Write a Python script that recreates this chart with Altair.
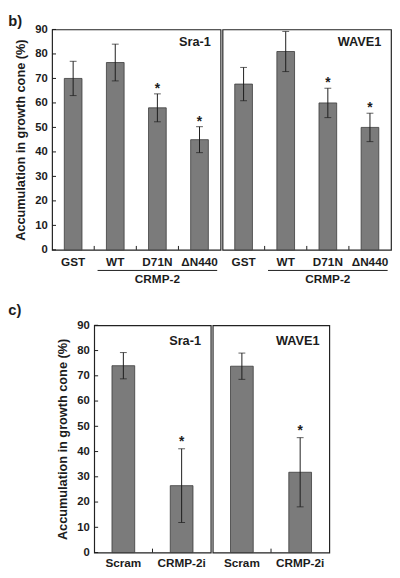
import altair as alt
import pandas as pd

FONT = "Liberation Sans"
INK = "#1c1c1c"

# ---- data -------------------------------------------------------------
b_categories = ["GST", "WT", "D71N", "ΔN440"]
b_sra1_mean = [70, 76.5, 58, 45]
b_sra1_err = [7, 7.5, 5.7, 5.3]
b_wave1_mean = [67.7, 81, 60, 50]
b_wave1_err = [6.8, 8.2, 6, 5.8]
b_sig = ["", "", "*", "*"]
b_group = ["WT", "D71N", "ΔN440"]
b_group_label = "CRMP-2"

c_categories = ["Scram", "CRMP-2i"]
c_sra1_mean = [74, 26.5]
c_sra1_err = [5.2, 14.6]
c_wave1_mean = [73.8, 31.8]
c_wave1_err = [5.2, 13.7]
c_sig = ["", "*"]

y_ticks = [0, 10, 20, 30, 40, 50, 60, 70, 80, 90]
y_title = "Accumulation in growth cone (%)"


def panel(cats, means, errs, sig, label, width, height, bar_band, first,
          group=None, group_label=None, star_dy=-1, label_pad=7, label_top=13):
    df = pd.DataFrame({
        "cat": cats,
        "mean": means,
        "lo": [m - e for m, e in zip(means, errs)],
        "hi": [m + e for m, e in zip(means, errs)],
        "sig": sig,
    })
    xaxis = alt.Axis(title=None, labelAngle=0, ticks=False, domain=False,
                     labelPadding=label_pad, labelFont=FONT, labelFontSize=12,
                     labelFontWeight="bold", labelColor=INK)
    xscale = alt.Scale(domain=cats, paddingInner=0, paddingOuter=0)
    yscale = alt.Scale(domain=[0, 90], nice=False)
    if first:
        yaxis = alt.Axis(title=y_title, values=y_ticks, ticks=False, domain=False,
                         grid=False, labelPadding=5, titlePadding=7,
                         labelFont=FONT, labelFontSize=11.5, labelFontWeight="bold",
                         labelColor=INK, titleFont=FONT, titleFontSize=13,
                         titleFontWeight="bold", titleColor=INK)
    else:
        yaxis = None

    def X(field, **kw):
        return alt.X(field, scale=xscale, axis=xaxis, **kw)

    def Y(field):
        return alt.Y(field, scale=yscale, axis=yaxis)

    base = alt.Chart(df)
    layers = []
    layers.append(base.mark_bar(color="#7b7b7b", stroke="#3a3a3a", strokeWidth=0.8,
                                width=alt.RelativeBandSize(bar_band))
                  .encode(x=X("cat:N"), y=Y("mean:Q")))
    layers.append(base.mark_rule(color=INK, strokeWidth=1)
                  .encode(x=X("cat:N"), y=Y("lo:Q"), y2="hi:Q"))
    layers.append(base.mark_tick(color=INK, size=7, thickness=1)
                  .encode(x=X("cat:N"), y=Y("hi:Q")))
    layers.append(base.mark_tick(color=INK, size=7, thickness=1)
                  .encode(x=X("cat:N"), y=Y("lo:Q")))
    layers.append(base.mark_text(font=FONT, fontSize=14, fontWeight="bold", color=INK,
                                 baseline="alphabetic", dy=star_dy)
                  .encode(x=X("cat:N"), y=Y("hi:Q"), text="sig:N"))
    # inward ticks at category boundaries
    layers.append(alt.Chart(df.iloc[1:]).mark_rule(color=INK, strokeWidth=1)
                  .encode(x=X("cat:N", bandPosition=0),
                          y=alt.value(height), y2=alt.value(height - 4)))
    # inward y ticks
    if first:
        layers.append(alt.Chart(pd.DataFrame({"v": y_ticks})).mark_rule(color=INK, strokeWidth=1)
                      .encode(y=Y("v:Q"), x=alt.value(0), x2=alt.value(4)))
    # corner label
    layers.append(alt.Chart(pd.DataFrame({"t": [label]})).mark_text(
        font=FONT, fontSize=13, fontWeight="bold", color=INK, align="right", baseline="middle")
        .encode(x=alt.value(width - 10), y=alt.value(label_top), text="t:N"))
    # group bracket
    if group:
        gdf = pd.DataFrame({"a": [group[0]], "b": [group[-1]], "m": [group[len(group) // 2]],
                            "t": [group_label]})
        layers.append(alt.Chart(gdf).mark_rule(color=INK, strokeWidth=1)
                      .encode(x=X("a:N", bandPosition=0.08),
                              x2=alt.X2("b:N", bandPosition=0.92),
                              y=alt.value(height + 21)))
        layers.append(alt.Chart(gdf).mark_text(font=FONT, fontSize=12, fontWeight="bold",
                                               color=INK, baseline="middle")
                      .encode(x=X("m:N"), y=alt.value(height + 30), text="t:N"))
    return alt.layer(*layers).properties(width=width, height=height)


def spacer(w, h):
    return (alt.Chart(pd.DataFrame({"a": [0]})).mark_point(opacity=0)
            .encode(x=alt.value(0), y=alt.value(0))
            .properties(width=w, height=h, view=alt.ViewBackground(strokeOpacity=0)))


BH = 225
b_left = panel(b_categories, b_sra1_mean, b_sra1_err, b_sig, "Sra-1", 172, BH, 0.42, True,
               b_group, b_group_label, star_dy=-1, label_pad=7, label_top=13)
b_right = panel(b_categories, b_wave1_mean, b_wave1_err, b_sig, "WAVE1", 172, BH, 0.42, False,
                b_group, b_group_label, star_dy=-1, label_pad=7, label_top=13)

CH = 232
c_left = panel(c_categories, c_sra1_mean, c_sra1_err, c_sig, "Sra-1", 119, CH, 0.39, True,
               star_dy=-3, label_pad=5, label_top=16)
c_right = panel(c_categories, c_wave1_mean, c_wave1_err, c_sig, "WAVE1", 119, CH, 0.39, False,
                star_dy=-3, label_pad=5, label_top=16)

title_kw = dict(anchor="start", font=FONT, fontSize=15, fontWeight="bold", color=INK)
b_row = alt.hconcat(spacer(2, BH), b_left, b_right, spacing=0).properties(
    title=alt.TitleParams("b)", offset=-10, **title_kw))
c_row = alt.hconcat(spacer(46, CH), c_left, c_right, spacing=0).properties(
    title=alt.TitleParams("c)", offset=1, **title_kw))

chart = (alt.vconcat(b_row, c_row, spacing=17)
         .properties(padding={"left": 0, "top": 0, "right": 0, "bottom": 0})
         .configure_view(stroke="#222222", strokeWidth=1.2))

chart.save("out.html", embed_options={"renderer": "svg", "actions": False})
